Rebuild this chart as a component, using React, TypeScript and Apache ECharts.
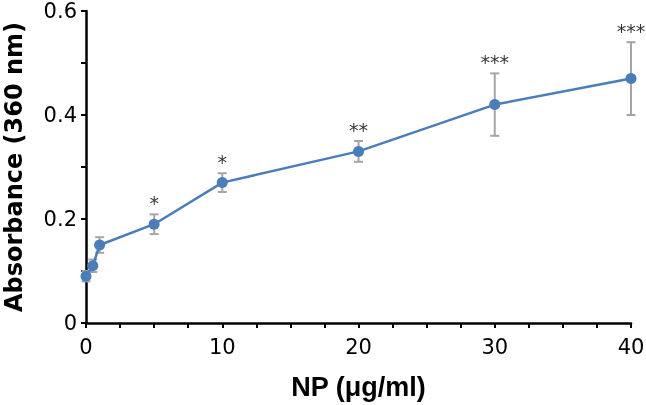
import React, { useEffect, useRef } from "react";
import * as echarts from "echarts";

const concentrations = [0, 0.5, 1, 5, 10, 20, 30, 40];
const absorbance = [0.09, 0.11, 0.15, 0.19, 0.27, 0.33, 0.42, 0.47];
const errors = [0.01, 0.012, 0.015, 0.019, 0.018, 0.02, 0.06, 0.07];
const significance = ["", "", "", "*", "*", "**", "***", "***"];

const BLUE = "#4a7ebb";
const GREY = "#a5a5a5";

export default function App() {
  const ref = useRef<HTMLDivElement>(null);

  useEffect(() => {
    if (!ref.current) return;
    const chart = echarts.init(ref.current, null, { renderer: "svg" });

    const lineData = concentrations.map((x, i) => [x, absorbance[i]]);
    const errData = concentrations.map((x, i) => [x, absorbance[i] - errors[i], absorbance[i] + errors[i]]);
    const starData = concentrations.map((x, i) => [x, absorbance[i] + errors[i]]);

    const axisLineStyle = { color: "#000", width: 2.5 };

    chart.setOption({
      animation: false,
      grid: { left: 86, right: 15, top: 11, bottom: 82, containLabel: false, outerBoundsMode: "none" },
      xAxis: {
        type: "value",
        min: 0,
        max: 40,
        interval: 10,
        name: "NP (μg/ml)",
        nameLocation: "middle",
        nameGap: 50,
        nameTextStyle: { fontFamily: "Liberation Sans", fontWeight: "bold", fontSize: 27, color: "#000" },
        axisLine: { show: true, lineStyle: axisLineStyle },
        axisTick: { show: true, length: 5, lineStyle: { color: "#000", width: 2 } },
        minorTick: { show: true, splitNumber: 4, length: 5, lineStyle: { color: "#000", width: 2 } },
        splitLine: { show: false },
        axisLabel: { fontFamily: "DejaVu Sans", fontSize: 21, color: "#000", margin: 13 },
      },
      yAxis: {
        type: "value",
        min: 0,
        max: 0.6,
        interval: 0.2,
        name: "Absorbance (360 nm)",
        nameLocation: "middle",
        nameGap: 60,
        nameTextStyle: { fontFamily: "DejaVu Sans", fontWeight: "bold", fontSize: 24, color: "#000" },
        axisLine: { show: true, lineStyle: axisLineStyle },
        axisTick: { show: true, length: 5, lineStyle: { color: "#000", width: 2 } },
        minorTick: { show: true, splitNumber: 2, length: 5, lineStyle: { color: "#000", width: 2 } },
        splitLine: { show: false },
        axisLabel: {
          fontFamily: "DejaVu Sans",
          fontSize: 21,
          color: "#000",
          margin: 9,
          formatter: (v: number) => (v === 0 ? "0" : v.toFixed(1)),
        },
      },
      series: [
        {
          type: "custom",
          z: 1,
          data: errData,
          encode: { x: 0, y: [1, 2] },
          renderItem: (params: any, api: any) => {
            const x = api.value(0);
            const lo = api.coord([x, api.value(1)]);
            const hi = api.coord([x, api.value(2)]);
            const w = 4.5;
            const style = { stroke: GREY, lineWidth: 2 };
            return {
              type: "group",
              children: [
                { type: "line", shape: { x1: lo[0], y1: lo[1], x2: hi[0], y2: hi[1] }, style },
                { type: "line", shape: { x1: lo[0] - w, y1: lo[1], x2: lo[0] + w, y2: lo[1] }, style },
                { type: "line", shape: { x1: hi[0] - w, y1: hi[1], x2: hi[0] + w, y2: hi[1] }, style },
              ],
            };
          },
        },
        {
          type: "line",
          z: 3,
          data: lineData,
          symbol: "circle",
          symbolSize: 11,
          clip: false,
          lineStyle: { color: BLUE, width: 2.5 },
          itemStyle: { color: BLUE },
        },
        {
          type: "scatter",
          z: 4,
          data: starData,
          symbolSize: 0,
          silent: true,
          label: {
            show: true,
            position: "top",
            distance: 2,
            fontFamily: "DejaVu Sans",
            fontSize: 19,
            color: "#000",
            formatter: (p: any) => significance[p.dataIndex],
          },
        },
      ],
    });

    return () => chart.dispose();
  }, []);

  return <div ref={ref} style={{ position: "fixed", left: 0, top: 0, width: 646, height: 405 }} />;
}
